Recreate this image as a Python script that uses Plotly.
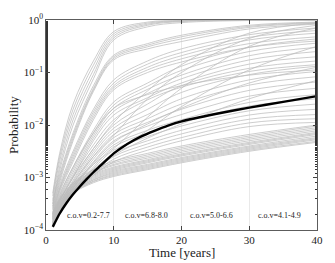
import plotly.graph_objects as go

# time nodes for the gray sample curves
t_nodes = [1, 2, 4, 7, 10, 15, 20, 30, 40]

# log10(probability) of the gray sample curves at t_nodes
fast_curves = [
    [-3.30, -2.55, -1.60, -0.78, -0.22, -0.04, -0.010, -0.002, 0.0],
    [-3.35, -2.62, -1.70, -0.86, -0.26, -0.06, -0.015, -0.002, 0.0],
    [-3.42, -2.70, -1.80, -0.95, -0.30, -0.08, -0.020, -0.003, 0.0],
    [-3.50, -2.80, -1.90, -1.04, -0.34, -0.10, -0.030, -0.005, -0.001],
    [-3.55, -2.88, -2.00, -1.12, -0.38, -0.13, -0.050, -0.010, -0.002],
]
second_curves = [
    [-3.45, -2.95, -2.15, -1.25, -0.67, -0.45, -0.29, -0.10, -0.04],
    [-3.50, -3.00, -2.20, -1.30, -0.70, -0.48, -0.32, -0.12, -0.05],
    [-3.55, -3.05, -2.25, -1.33, -0.73, -0.51, -0.36, -0.14, -0.06],
    [-3.58, -3.10, -2.30, -1.36, -0.76, -0.55, -0.41, -0.17, -0.08],
]
third_curves = [
    [-3.60, -3.15, -2.50, -1.70, -1.14, -0.78, -0.55, -0.28, -0.15],
    [-3.62, -3.20, -2.55, -1.75, -1.20, -0.84, -0.62, -0.33, -0.20],
    [-3.65, -3.22, -2.60, -1.80, -1.25, -0.90, -0.68, -0.38, -0.25],
    [-3.68, -3.25, -2.65, -1.85, -1.29, -0.95, -0.74, -0.45, -0.32],
    [-3.70, -3.28, -2.70, -1.90, -1.33, -1.00, -0.80, -0.52, -0.40],
]
fourth_curves = [
    [-3.72, -3.35, -2.80, -2.10, -1.56, -1.20, -0.88, -0.52, -0.36],
    [-3.74, -3.38, -2.85, -2.15, -1.62, -1.26, -0.96, -0.60, -0.44],
    [-3.76, -3.40, -2.90, -2.20, -1.68, -1.32, -1.05, -0.68, -0.52],
    [-3.78, -3.42, -2.95, -2.25, -1.74, -1.40, -1.12, -0.76, -0.60],
    [-3.80, -3.45, -3.00, -2.30, -1.81, -1.48, -1.20, -0.84, -0.70],
]
fifth_curves = [
    [-3.82, -3.50, -3.05, -2.45, -2.00, -1.60, -1.25, -0.92, -0.78],
    [-3.83, -3.52, -3.08, -2.50, -2.06, -1.70, -1.38, -1.04, -0.88],
    [-3.84, -3.54, -3.12, -2.55, -2.12, -1.80, -1.50, -1.14, -0.98],
    [-3.85, -3.55, -3.15, -2.60, -2.18, -1.88, -1.60, -1.24, -1.08],
    [-3.86, -3.56, -3.18, -2.65, -2.24, -1.95, -1.70, -1.34, -1.18],
    [-3.87, -3.58, -3.20, -2.70, -2.30, -2.02, -1.80, -1.45, -1.30],
    [-3.88, -3.60, -3.22, -2.75, -2.38, -2.10, -1.90, -1.57, -1.42],
]
sixth_curves = [
    [-3.88, -3.60, -3.24, -2.80, -2.42, -2.15, -1.95, -1.64, -1.50],
    [-3.89, -3.61, -3.26, -2.83, -2.48, -2.22, -2.02, -1.73, -1.60],
    [-3.90, -3.62, -3.28, -2.87, -2.54, -2.30, -2.10, -1.81, -1.70],
    [-3.90, -3.63, -3.30, -2.90, -2.60, -2.36, -2.17, -1.89, -1.80],
    [-3.91, -3.64, -3.31, -2.93, -2.65, -2.42, -2.24, -1.96, -1.88],
    [-3.92, -3.65, -3.32, -2.96, -2.70, -2.48, -2.30, -2.03, -1.95],
]
crossing_curves = [
    [-3.85, -3.55, -3.15, -2.75, -2.45, -1.85, -1.30, -0.50, -0.15],
    [-3.80, -3.50, -3.10, -2.60, -2.20, -1.50, -1.00, -0.35, -0.10],
    [-3.75, -3.45, -3.00, -2.45, -1.95, -1.35, -0.85, -0.25, -0.06],
    [-3.88, -3.60, -3.25, -2.85, -2.55, -2.10, -1.65, -0.95, -0.50],
    [-3.78, -3.45, -2.98, -2.38, -1.90, -1.52, -1.28, -0.98, -0.85],
    [-3.70, -3.32, -2.80, -2.15, -1.68, -1.42, -1.25, -1.05, -0.95],
    [-3.86, -3.57, -3.20, -2.72, -2.33, -1.98, -1.68, -1.20, -0.90],
    [-3.90, -3.62, -3.27, -2.88, -2.58, -2.25, -1.98, -1.50, -1.15],
]
band_curves = [
    [-3.80, -3.58, -3.30, -3.10, -2.98, -2.85, -2.72, -2.50, -2.33],
    [-3.79, -3.57, -3.29, -3.08, -2.96, -2.83, -2.70, -2.48, -2.31],
    [-3.78, -3.56, -3.28, -3.07, -2.94, -2.81, -2.68, -2.46, -2.28],
    [-3.77, -3.55, -3.27, -3.05, -2.92, -2.79, -2.66, -2.44, -2.26],
    [-3.76, -3.54, -3.26, -3.04, -2.90, -2.77, -2.64, -2.42, -2.24],
    [-3.75, -3.53, -3.25, -3.02, -2.88, -2.75, -2.62, -2.40, -2.21],
    [-3.74, -3.52, -3.23, -3.00, -2.86, -2.72, -2.59, -2.37, -2.18],
    [-3.73, -3.51, -3.22, -2.98, -2.84, -2.70, -2.57, -2.35, -2.16],
    [-3.72, -3.49, -3.20, -2.96, -2.82, -2.68, -2.55, -2.33, -2.14],
    [-3.71, -3.48, -3.18, -2.94, -2.80, -2.66, -2.52, -2.30, -2.11],
    [-3.70, -3.46, -3.16, -2.92, -2.77, -2.63, -2.49, -2.27, -2.08],
    [-3.69, -3.45, -3.14, -2.90, -2.75, -2.60, -2.46, -2.24, -2.05],
    [-3.68, -3.43, -3.12, -2.88, -2.72, -2.57, -2.43, -2.21, -2.02],
    [-3.66, -3.41, -3.10, -2.85, -2.69, -2.54, -2.40, -2.18, -2.00],
]

# mean (black) curve
t_mean = [1, 2, 3, 4, 5, 6, 7, 8, 10, 12, 14, 16, 18, 20, 25, 30, 35, 40]
mean_log = [-3.94, -3.69, -3.49, -3.32, -3.17, -3.03, -2.90, -2.78, -2.54,
            -2.36, -2.22, -2.11, -2.01, -1.93, -1.79, -1.67, -1.56, -1.45]

# c.o.v annotations
cov_labels = ["c.o.v=0.2-7.7", "c.o.v=6.8-8.0", "c.o.v=5.0-6.6", "c.o.v=4.1-4.9"]
cov_x = [6.2, 14.8, 24.5, 34.4]
cov_logy = -3.73

y_tickvals = [1e-4, 1e-3, 1e-2, 1e-1, 1]
y_ticktext = ["10<sup>−4</sup>", "10<sup>−3</sup>", "10<sup>−2</sup>",
              "10<sup>−1</sup>", "10<sup>0</sup>"]
x_tickvals = [0, 10, 20, 30, 40]

FONT = "Liberation Serif"
GRAY = "rgb(188,188,188)"

all_gray = (fast_curves + second_curves + third_curves + fourth_curves +
            fifth_curves + sixth_curves + crossing_curves + band_curves)

fig = go.Figure()
for c in all_gray:
    fig.add_trace(go.Scatter(
        x=t_nodes, y=[10 ** v for v in c], mode="lines",
        line=dict(color=GRAY, width=0.75, shape="spline", smoothing=1.0),
        hoverinfo="skip", showlegend=False))

fig.add_trace(go.Scatter(
    x=t_mean, y=[10 ** v for v in mean_log], mode="lines",
    line=dict(color="black", width=2.4, shape="spline", smoothing=0.5),
    hoverinfo="skip", showlegend=False))

for lab, xx in zip(cov_labels, cov_x):
    fig.add_annotation(x=xx, y=cov_logy, text=lab, showarrow=False,
                       font=dict(family=FONT, size=8, color="#222"))

fig.add_annotation(xref="paper", yref="paper", x=0.5, y=0, yshift=-22,
                   yanchor="middle", text="Time [years]", showarrow=False,
                   font=dict(family=FONT, size=13, color="#222"))
fig.add_annotation(xref="paper", yref="paper", x=0, y=0.5, xshift=-33,
                   xanchor="center", text="Probability", showarrow=False,
                   textangle=-90,
                   font=dict(family=FONT, size=13, color="#222"))

fig.update_layout(
    width=335, height=263,
    margin=dict(l=46, r=18, t=20, b=33, autoexpand=False),
    paper_bgcolor="white", plot_bgcolor="white",
    hovermode=False,
    font=dict(family=FONT, size=11, color="#222"),
    xaxis=dict(range=[0, 40], tickvals=x_tickvals, ticks="inside", ticklen=4,
               showline=True, linecolor="#333", linewidth=0.8, mirror="ticks",
               showgrid=True, gridcolor="#e4e4e4", gridwidth=0.8,
               zeroline=False, tickfont=dict(size=11), automargin=False),
    yaxis=dict(type="log", range=[-4, 0], tickvals=y_tickvals,
               ticktext=y_ticktext, ticks="inside", ticklen=4,
               showline=True, linecolor="#333", linewidth=0.8, mirror="ticks",
               showgrid=False, zeroline=False, tickfont=dict(size=11),
               automargin=False,
               minor=dict(ticks="inside", ticklen=2, tickcolor="#333",
                          showgrid=False)),
)

# remove the default page margin so the figure fills the window exactly
fig.write_html("out.html",
               config={"displayModeBar": False, "staticPlot": True},
               post_script="document.body.style.margin='0';")
